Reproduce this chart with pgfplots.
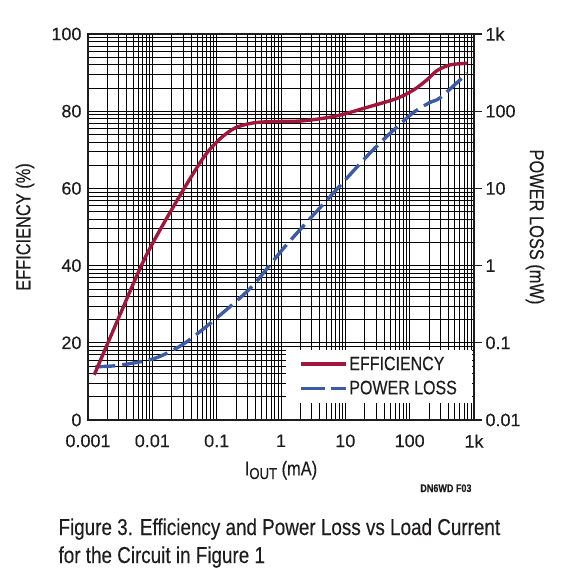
\documentclass[border=0pt]{standalone}
\usepackage{fontspec}
\setmainfont{Liberation Sans}[FakeStretch=0.82, FakeBold=0.25]
\newfontfamily\tickfont{Liberation Sans}[FakeBold=0.25]
\usepackage{pgfplots}
\usepackage{pgfplotstable}
\pgfplotsset{compat=1.18}

\definecolor{effred}{RGB}{163,22,60}
\definecolor{lossblue}{RGB}{58,92,166}
\definecolor{ink}{RGB}{30,28,28}

% efficiency (%) vs load current (mA)
\pgfplotstableread{
I       eff
0.00125 11.7
0.003   26.5
0.0077  42.0
0.0213  55.3
0.059   67.4
0.107   72.5
0.19    75.6
0.35    76.9
0.68    77.3
2.2     77.5
7.4     78.8
24      81.2
63      83.3
115     85.5
185     88.1
265     90.5
426     92.0
775     92.4
}\efftable

% power loss (mW) vs load current (mA)
\pgfplotstableread{
I      loss
0.0013 0.049
0.003  0.051
0.011  0.063
0.032  0.099
0.107  0.22
0.35   0.53
1.15   1.76
6.5    8.7
27     31.6
100    88
200    128
300    150
780    310
}\losstable

\begin{document}
\begin{tikzpicture}
% right axis: power loss, carries the log grid
\begin{axis}[
  at={(0pt,0pt)}, anchor=south west,
  scale only axis, width=386pt, height=386pt,
  xmode=log, ymode=log,
  xmin=0.001, xmax=1000, ymin=0.01, ymax=1000,
  axis line style={line width=2pt, ink},
  tick label style={font=\tickfont\fontsize{18}{20}\selectfont, text=ink},
  label style={font=\fontsize{20}{22}\selectfont, text=ink},
  xtick={0.001,0.01,0.1,1,10,100,1000},
  xticklabels={0.001,0.01,0.1,1,10,100,1k},
  ytick={0.01,0.1,1,10,100,1000},
  yticklabels={0.01,0.1,1,10,100,1k},
  xtick pos=bottom, ytick pos=right, yticklabel pos=right,
  tick align=outside, major tick length=8pt, minor tick length=0pt,
  xtick style={draw=none},
  ytick style={line width=1.2pt, ink},
  xticklabel style={yshift=-3pt},
  grid=both,
  grid style={line width=0.65pt, black},
  major grid style={line width=0.65pt, black},
  ylabel={POWER LOSS (mW)},
  ylabel style={at={(axis description cs:1.158,0.5)}, rotate=-180, anchor=center},
  xlabel={I\raisebox{-0.35ex}{\fontsize{16}{16}\selectfont OUT} (mA)},
  xlabel style={at={(axis description cs:0.5,-0.13)}, anchor=center},
]
\addplot[lossblue, line width=3.4pt, dash pattern=on 20pt off 7pt, smooth, tension=0.45]
  table[x=I, y=loss] {\losstable};
\end{axis}

% left axis: efficiency
\begin{axis}[
  at={(0pt,0pt)}, anchor=south west,
  scale only axis, width=386pt, height=386pt,
  xmode=log, xmin=0.001, xmax=1000,
  ymin=0, ymax=100,
  axis line style={line width=2pt, ink},
  tick label style={font=\tickfont\fontsize{18}{20}\selectfont, text=ink},
  label style={font=\fontsize{20}{22}\selectfont, text=ink},
  hide x axis, axis y line*=left,
  ytick={0,20,40,60,80,100},
  yticklabels={0,20,40,60,80,100},
  major tick length=0pt, minor tick length=0pt,
  yticklabel style={xshift=-3pt},
  ylabel={EFFICIENCY (\%)},
  ylabel style={at={(axis description cs:-0.163,0.5)}, anchor=center},
  legend style={at={(axis description cs:0.995,0.044)}, anchor=south east,
    draw=none, fill=white, inner xsep=13pt, inner ysep=5pt,
    font=\fontsize{19.5}{21}\selectfont, text=ink,
    row sep=5pt},
  legend cell align=left,
  legend image code/.code={\draw[#1] (0pt,0pt) -- (45pt,0pt);},
]
\addplot[effred, line width=3.4pt, smooth, tension=0.5]
  table[x=I, y=eff] {\efftable};
\addlegendentry{EFFICIENCY}
\addlegendimage{lossblue, line width=3.4pt, dash pattern=on 24pt off 6pt}
\addlegendentry{POWER LOSS}
\end{axis}

\node[anchor=base east, font=\bfseries\fontsize{11}{12}\selectfont, text=ink] at (387pt,-72pt) {DN6WD F03};
\node[anchor=base west, font=\fontsize{23}{25}\selectfont, text=ink] at (-33pt,-115pt) {Figure 3. Efficiency and Power Loss vs Load Current};
\node[anchor=base west, font=\fontsize{23}{25}\selectfont, text=ink] at (-33pt,-143pt) {for the Circuit in Figure 1};

\pgfresetboundingbox
\path[use as bounding box] (-88pt,-162pt) rectangle (475pt,420pt);
\end{tikzpicture}
\end{document}
